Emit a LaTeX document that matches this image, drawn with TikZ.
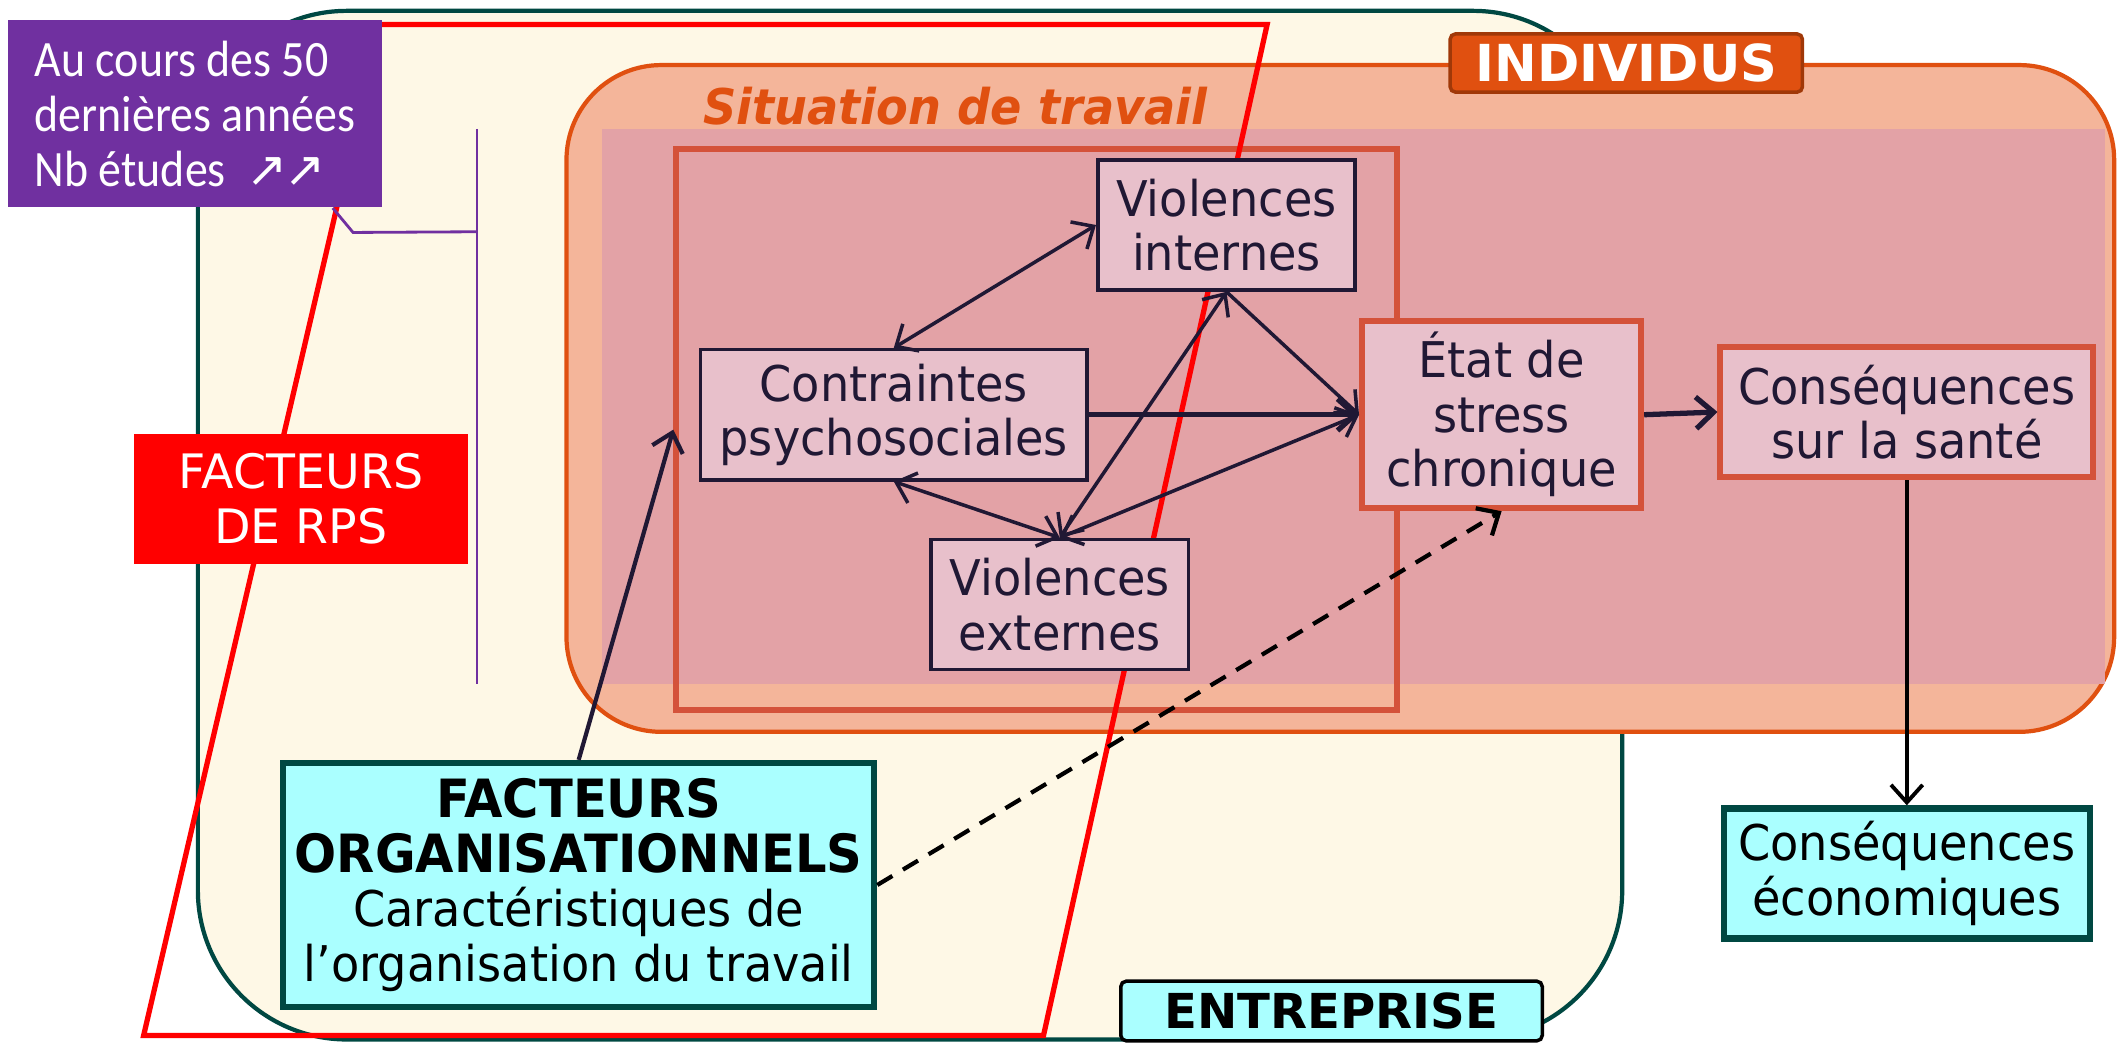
\documentclass[tikz,border=0pt]{standalone}
\usepackage{fontspec}
\setmainfont{DejaVu Sans}
\newfontfamily\condfont{DejaVu Sans}[FakeStretch=0.94]
\newfontfamily\calfont{Carlito}[FakeStretch=0.9]
\usetikzlibrary{positioning,arrows.meta}

\definecolor{entrcream}{RGB}{254,248,230}
\definecolor{entrteal}{RGB}{0,72,66}
\definecolor{rpsred}{RGB}{255,0,0}
\definecolor{etudpurple}{RGB}{112,48,160}
\definecolor{indivsalmon}{RGB}{244,181,154}
\definecolor{indivorange}{RGB}{224,80,16}
\definecolor{indivdark}{RGB}{160,56,8}
\definecolor{situpink}{RGB}{227,162,166}
\definecolor{situborder}{RGB}{212,82,58}
\definecolor{boxpink}{RGB}{232,192,203}
\definecolor{boxdark}{RGB}{32,24,52}
\definecolor{orgacyan}{RGB}{170,255,255}

\newlength\px
\setlength\px{0.013552cm}
\newcommand\orgabold{\bfseries\fontsize{15}{15.5}\selectfont}

\begin{document}
\begin{tikzpicture}[
		x=0.013552cm, y=-0.013552cm,
		>={Straight Barb[length=5pt,width=9pt]},
		every node/.style={align=center, inner sep=0pt},
		pinkbox/.style={draw=boxdark, fill=boxpink, line width=1pt, minimum width=190\px, minimum height=96\px, text=boxdark, font=\condfont\fontsize{14}{15.5}\selectfont},
		stressbox/.style={pinkbox, draw=situborder, line width=1.7pt},
		cyanbox/.style={draw=entrteal, fill=orgacyan, line width=1.8pt, font=\condfont\fontsize{14}{15.5}\selectfont},
		tagbox/.style={rounded corners=4\px, line width=1pt},
		link/.style={draw=boxdark, line width=1pt},
		]
		\useasboundingbox (0,0) rectangle (1568,770);
		% Frames
		\draw[fill=entrcream, draw=entrteal, line width=1.2pt, rounded corners=110\px] (146,8) rectangle (1197,767);
		\draw[fill=indivsalmon, draw=indivorange, line width=1.2pt, rounded corners=70\px] (418,48) rectangle (1560,540);
		\fill[situpink] (444,95) rectangle (1553,505);
		\node[draw=situborder, line width=1.7pt, minimum width=532\px, minimum height=414\px] (situ) at (765,317) {};
		\node[text=indivorange, font=\condfont\bfseries\itshape\fontsize{14}{14}\selectfont] (situlabel) at (705,78) {Situation de travail};
		% RPS frame
		\draw[rpsred, line width=1.5pt] (280,18) -- (935,18) -- (770,764) -- (106,764) -- cycle;

		% Studies
		\coordinate (brtop) at (352,95);
		\coordinate (brmid) at (352,171);
		\coordinate (brbot) at (352,505);
		\draw[etudpurple, line width=0.8pt] (brtop) -- (brbot);
		\node[fill=etudpurple, text=white, minimum width=276\px, minimum height=138\px, align=left, font=\calfont\fontsize{14.5}{15.6}\selectfont] (etude) at (144,84) {Au cours des 50\\dernières années\\Nb études~~{\normalfont\fontsize{14}{14}\selectfont ↗\kern-1pt↗}};
		\draw[etudpurple, line width=0.8pt] ([xshift=-37\px]etude.south east) -- ++(15,18) -- (brmid);
		\node[fill=rpsred, text=white, minimum width=246\px, minimum height=96\px, font=\fontsize{13.5}{15.5}\selectfont] (rps) at (222,368) {FACTEURS\\DE RPS};

		% Steps
		\node[pinkbox] (vint) at (905,166) {Violences\\internes};
		\node[pinkbox, minimum width=285\px] (contr) at (659.5,306) {Contraintes\\psychosociales};
		\node[pinkbox] (vext) at (782,446) {Violences\\externes};
		\node[stressbox, minimum width=206\px, minimum height=138\px] (etat) at (1108,306) {État de\\stress\\chronique};
		\node[stressbox, minimum width=275\px] (sante) at (1407,304) {Conséquences\\sur la santé};
		\node[cyanbox, minimum width=270\px, minimum height=96\px, below=240\px of sante] (eco) {Conséquences\\économiques};
		\node[cyanbox, minimum width=436\px, minimum height=180\px] (orga) at (427,653) {\orgabold FACTEURS\\\orgabold ORGANISATIONNELS\\Caractéristiques de\\l’organisation du travail};

		% Arrows
		\draw[link, <->] (contr.north) -- (vint.west);
		\draw[link, <->] (contr.south) -- (vext.north);
		\draw[link, <->] (vint.south) -- (vext.north);
		\draw[link, <->] (vext.north) -- (etat.west);
		\draw[link, ->] (vint.south) -- (etat.west);
		\draw[link, ->, line width=1.5pt] (contr.east) -- (etat.west);
		\draw[link, ->, line width=1.5pt] (etat.east) -- (sante.west);
		\draw[->, line width=1.1pt] (sante.south) -- (eco.north);
		\draw[link, ->, line width=1.2pt] (orga.north) -- (situ.west);
		\draw[->, dashed, dash pattern=on 5pt off 3.5pt, line width=1.2pt] (orga.east) -- (etat.south);

		% Tags
		\node[tagbox, fill=indivorange, draw=indivdark, text=white, minimum width=260\px, minimum height=43\px, font=\bfseries\fontsize{14.5}{14.5}\selectfont] (indiv) at (1200,46.5) {INDIVIDUS};
		\node[tagbox, fill=orgacyan, draw=black, minimum width=311\px, minimum height=44\px, font=\bfseries\fontsize{13.7}{13.7}\selectfont] (entr) at (982.5,746) {ENTREPRISE};
	\end{tikzpicture}
\end{document}
